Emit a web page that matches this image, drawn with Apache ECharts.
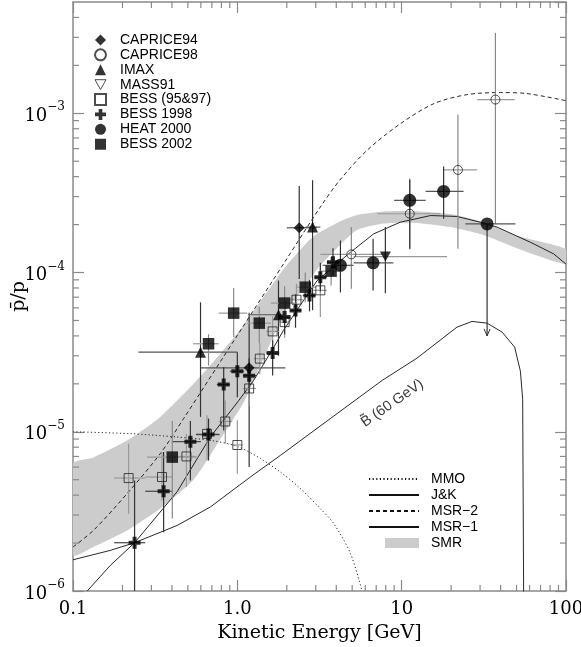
<!DOCTYPE html>
<html>
<head>
<meta charset="utf-8">
<script src="https://cdn.jsdelivr.net/npm/echarts@6/dist/echarts.min.js"></script>
<style>
html,body{margin:0;padding:0;background:#ffffff;}
#chart{width:581px;height:647px;}
</style>
</head>
<body>
<div id="chart"></div>
<script>
// ---------------- axis ticks ----------------
const xTickLabels = ['0.1', '1.0', '10', '100'];          // labels for 10^-1 .. 10^2
const xMinorTicks = [0.2,0.3,0.4,0.5,0.6,0.7,0.8,0.9, 2,3,4,5,6,7,8,9, 20,30,40,50,60,70,80,90];
const yMinorTicks = [2e-6,3e-6,4e-6,5e-6,6e-6,7e-6,8e-6,9e-6,
                     2e-5,3e-5,4e-5,5e-5,6e-5,7e-5,8e-5,9e-5,
                     2e-4,3e-4,4e-4,5e-4,6e-4,7e-4,8e-4,9e-4,
                     2e-3,3e-3,4e-3];

// ---------------- model curves ----------------
const mmoE  = [0.1, 0.223, 0.43, 0.685, 1.0, 1.38, 1.83, 2.42, 3.2, 3.86, 4.88, 5.74];
const mmoR  = [1.0e-5, 9.73e-6, 9.27e-6, 8.83e-6, 8.09e-6, 6.8e-6, 5.58e-6, 4.4e-6, 3.29e-6, 2.65e-6, 1.72e-6, 1.0e-6];

const jkE   = [0.1, 0.169, 0.237, 0.43, 0.685, 1.2, 1.83, 3.68, 7.6, 12.4, 21.7, 26.8, 33.1, 40.9, 48.7, 52.8, 54.5, 55.4];
const jkR   = [1.57e-6, 1.8e-6, 2.01e-6, 2.58e-6, 3.37e-6, 5.2e-6, 7.11e-6, 1.21e-5, 2.1e-5, 2.9e-5, 4.54e-5, 4.93e-5, 4.81e-5, 4.22e-5, 3.4e-5, 2.4e-5, 1.6e-5, 5e-7];

const msr2E = [0.1, 0.133, 0.213, 0.34, 0.471, 1.0, 2.0, 3.2, 4.2, 6.15, 9.82, 15.7, 25.0, 39.8, 57.9, 100];
const msr2R = [1.89e-6, 2.4e-6, 4.08e-6, 7.3e-6, 1.21e-5, 4.03e-5, 1.22e-4, 2.58e-4, 3.8e-4, 5.85e-4, 8.6e-4, 1.15e-3, 1.31e-3, 1.35e-3, 1.33e-3, 1.2e-3];

const msr1E = [0.122, 0.169, 0.237, 0.43, 0.685, 1.02, 1.256, 1.64, 1.91, 2.78, 3.06, 4.88, 6.76, 9.8, 15.0, 21.7, 30.1, 38.0, 60.7, 84.1, 100];
const msr1R = [1.0e-6, 1.45e-6, 2.01e-6, 4.2e-6, 9.27e-6, 1.57e-5, 2.1e-5, 3.3e-5, 4.34e-5, 7.73e-5, 8.9e-5, 1.34e-4, 1.75e-4, 2.07e-4, 2.28e-4, 2.25e-4, 2.07e-4, 1.93e-4, 1.55e-4, 1.31e-4, 1.13e-4];

const smrE  = [0.1, 0.133, 0.213, 0.34, 0.542, 0.79, 1.1, 1.38, 1.66, 1.91, 2.66, 3.06, 4.24, 5.36, 7.77, 12.4, 19.8, 31.5, 50.3, 100];
const smrHi = [6.3e-6, 6.9e-6, 8.8e-6, 1.24e-5, 2.0e-5, 3.1e-5, 4.7e-5, 6.6e-5, 8.6e-5, 1.05e-4, 1.55e-4, 1.75e-4, 2.1e-4, 2.3e-4, 2.42e-4, 2.43e-4, 2.33e-4, 2.07e-4, 1.7e-4, 1.4e-4];
const smrLo = [1.68e-6, 1.89e-6, 2.4e-6, 3.3e-6, 5.0e-6, 9.0e-6, 1.55e-5, 2.6e-5, 4.0e-5, 5.5e-5, 8.5e-5, 1.05e-4, 1.5e-4, 1.85e-4, 2.03e-4, 2.05e-4, 1.93e-4, 1.72e-4, 1.42e-4, 1.13e-4];

// ---------------- measurements ----------------
const caprice94E   = [1.18, 2.38];
const caprice94R   = [2.52e-5, 1.91e-4];
const caprice94Elo = [0.6, 2.0];
const caprice94Ehi = [1.96, 3.06];
const caprice94Rlo = [6.0e-6, 9.1e-5];
const caprice94Rhi = [5.6e-5, 3.5e-4];

const caprice98E   = [4.94, 11.2, 22.0, 37.2];
const caprice98R   = [1.30e-4, 2.34e-4, 4.41e-4, 1.22e-3];
const caprice98Elo = [3.2, 7.1, 18.0, 28.8];
const caprice98Ehi = [7.7, 17.2, 28.8, 48.8];
const caprice98Rlo = [7.9e-5, 1.4e-4, 1.41e-4, 2.02e-4];
const caprice98Rhi = [1.93e-4, 3.9e-4, 9.8e-4, 3.2e-3];

const imaxE   = [0.597, 1.78, 2.87];
const imaxR   = [3.16e-5, 5.43e-5, 1.93e-4];
const imaxElo = [0.25, 1.17, 2.6];
const imaxEhi = [1.0, 1.96, 3.2];
const imaxRlo = [1.24e-5, 3.0e-5, 5.8e-5];
const imaxRhi = [6.5e-5, 8.9e-5, 3.8e-4];

const mass91E   = [7.96];
const mass91R   = [1.26e-4];
const mass91Elo = [5.1];
const mass91Ehi = [18.9];
const mass91Rlo = [7.4e-5];
const mass91Rhi = [1.93e-4];

const bess9597E   = [0.218, 0.348, 0.49, 0.654, 0.845, 1.0, 1.18, 1.37, 1.64, 1.94, 2.29, 3.2];
const bess9597R   = [5.12e-6, 5.2e-6, 7.0e-6, 9.7e-6, 1.16e-5, 8.26e-6, 1.87e-5, 2.88e-5, 4.27e-5, 4.88e-5, 6.75e-5, 7.73e-5];
const bess9597Elo = [0.178, 0.275, 0.40, 0.56, 0.77, 0.93, 1.08, 1.26, 1.5, 1.78, 2.1, 2.9];
const bess9597Ehi = [0.275, 0.40, 0.56, 0.77, 0.93, 1.08, 1.3, 1.5, 1.8, 2.1, 2.5, 3.5];
const bess9597Rlo = [3.06e-6, 3.7e-6, 4.5e-6, 6.6e-6, 8.4e-6, 5.45e-6, 1.45e-5, 2.3e-5, 3.4e-5, 3.9e-5, 5.3e-5, 5.25e-5];
const bess9597Rhi = [8.4e-6, 7.46e-6, 9.7e-6, 1.27e-5, 1.57e-5, 1.18e-5, 2.35e-5, 3.6e-5, 5.3e-5, 6.1e-5, 8.5e-5, 1.08e-4];

const bess98E   = [0.237, 0.356, 0.518, 0.668, 0.826, 1.0, 1.18, 1.64, 1.94, 2.26, 2.75, 3.2, 3.82];
const bess98R   = [2.01e-6, 4.23e-6, 8.67e-6, 9.6e-6, 1.98e-5, 2.4e-5, 2.25e-5, 3.12e-5, 5.25e-5, 5.78e-5, 7.17e-5, 9.35e-5, 1.16e-4];
const bess98Elo = [0.178, 0.275, 0.40, 0.56, 0.75, 0.9, 1.08, 1.5, 1.78, 2.1, 2.5, 2.95, 3.5];
const bess98Ehi = [0.275, 0.40, 0.60, 0.78, 0.9, 1.1, 1.3, 1.8, 2.1, 2.45, 3.0, 3.5, 4.2];
const bess98Rlo = [1e-7, 2.34e-6, 4.95e-6, 6.6e-6, 1.02e-5, 1.65e-5, 1.75e-5, 2.26e-5, 4.1e-5, 4.5e-5, 5.7e-5, 7.6e-5, 9.5e-5];
const bess98Rhi = [4.95e-6, 7.46e-6, 1.17e-5, 1.21e-5, 2.55e-5, 3.16e-5, 2.9e-5, 3.75e-5, 6.6e-5, 7.3e-5, 9.0e-5, 1.15e-4, 1.42e-4];

const heatE     = [4.24, 6.7, 11.2, 18.0, 33.1];
const heatR     = [1.11e-4, 1.15e-4, 2.84e-4, 3.23e-4, 2.02e-4];
const heatElo   = [3.3, 5.1, 9.0, 14.0, 24.4];
const heatEhi   = [5.1, 8.9, 14.0, 23.8, 49.2];
const heatRlo   = [7.5e-5, 7.7e-5, 1.41e-4, 2.18e-4, 4.0e-5];
const heatRhi   = [1.59e-4, 1.63e-4, 3.83e-4, 4.63e-4, 2.02e-4];
const heatLimit = [0, 0, 0, 0, 1];   // 1 = upper limit (arrow)

const bess02E   = [0.402, 0.668, 0.95, 1.36, 1.94, 2.59, 3.72];
const bess02R   = [6.93e-6, 3.57e-5, 5.56e-5, 4.81e-5, 6.43e-5, 8.09e-5, 1.02e-4];
const bess02Elo = [0.282, 0.537, 0.77, 1.15, 1.6, 2.3, 3.2];
const bess02Ehi = [0.58, 0.769, 1.15, 1.6, 2.3, 3.0, 4.3];
const bess02Rlo = [2.85e-6, 2.6e-5, 3.93e-5, 3.6e-5, 5.0e-5, 6.5e-5, 8.3e-5];
const bess02Rhi = [1.17e-5, 4.1e-5, 8.0e-5, 6.1e-5, 8.2e-5, 1.0e-4, 1.25e-4];

const bLabelText = 'B\u0303 (60 GeV)';
const bLabelAt   = [8.77, 1.51e-5];

// ---------------- build ----------------
const SERIF = 'DejaVu Serif';
const SANS = 'Liberation Sans';
const AXIS_GRAY = '#8a8a8a';

function pairs(xs, ys) { return xs.map((x, i) => [x, ys[i]]); }

function errData(E, R, Elo, Ehi, Rlo, Rhi, lim) {
  return E.map((e, i) => [e, R[i], Elo[i], Ehi[i], Rlo[i], Rhi[i], lim ? lim[i] : 0]);
}

function errSeries(name, data, hColor, vColor) {
  return {
    type: 'custom', name: name + ' err', silent: true, z: 3, clip: true,
    encode: { x: 0, y: 1 },
    data: data,
    renderItem: function (params, api) {
      const E = api.value(0), R = api.value(1);
      const a = api.coord([api.value(2), R]), b = api.coord([api.value(3), R]);
      const c = api.coord([E, api.value(4)]), d = api.coord([E, api.value(5)]);
      const children = [
        { type: 'line', shape: { x1: a[0], y1: a[1], x2: b[0], y2: b[1] }, style: { stroke: hColor, lineWidth: 1.2 } },
        { type: 'line', shape: { x1: c[0], y1: c[1], x2: d[0], y2: d[1] }, style: { stroke: vColor, lineWidth: 1.2 } }
      ];
      if (api.value(6) === 1) {
        children.push({ type: 'polyline', shape: { points: [[c[0] - 3, c[1] - 7], [c[0], c[1]], [c[0] + 3, c[1] - 7]] },
                        style: { stroke: vColor, lineWidth: 1, fill: null } });
      }
      return { type: 'group', children: children };
    }
  };
}

function scatter(name, E, R, symbol, size, style) {
  return {
    type: 'scatter', name: name, z: 4, symbol: symbol, symbolSize: size,
    data: pairs(E, R), itemStyle: style, emphasis: { disabled: true }
  };
}

const filled = { color: '#000000' };
const open = { color: 'rgba(255,255,255,0)', borderColor: '#222222', borderWidth: 1 };
const plusPath = 'path://M4,0H8V4H12V8H8V12H4V8H0V4H4Z';
const downTri = 'path://M0,0H10L5,9Z';

const series = [];

// SMR band
series.push({
  type: 'custom', name: 'SMR', z: 1, clip: true, silent: true,
  itemStyle: { color: '#cccccc' },
  encode: { x: 0, y: 1 },
  data: [[1, 1e-4]],
  renderItem: function (params, api) {
    const pts = [];
    for (let i = 0; i < smrE.length; i++) pts.push(api.coord([smrE[i], smrHi[i]]));
    for (let i = smrE.length - 1; i >= 0; i--) pts.push(api.coord([smrE[i], smrLo[i]]));
    return { type: 'polygon', shape: { points: pts, smooth: 0.2 }, style: { fill: '#cccccc', stroke: null } };
  }
});

function lineSeries(name, E, R, type, smooth) {
  return {
    type: 'line', name: name, z: 2, symbol: 'none', showSymbol: false, smooth: smooth, clip: true,
    data: pairs(E, R), silent: true,
    lineStyle: { color: '#111111', width: 0.9, type: type },
    itemStyle: { color: '#111111' }
  };
}
series.push(lineSeries('MMO', mmoE, mmoR, [1.2, 2.4], 0.3));
series.push(lineSeries('J&K', jkE, jkR, 'solid', false));
series.push(lineSeries('MSR\u22122', msr2E, msr2R, [4, 3], 0.3));
series.push(lineSeries('MSR\u22121', msr1E, msr1R, 'solid', false));

// error bars
series.push(errSeries('CAPRICE94', errData(caprice94E, caprice94R, caprice94Elo, caprice94Ehi, caprice94Rlo, caprice94Rhi), '#555555', '#333333'));
series.push(errSeries('CAPRICE98', errData(caprice98E, caprice98R, caprice98Elo, caprice98Ehi, caprice98Rlo, caprice98Rhi), '#999999', '#888888'));
series.push(errSeries('IMAX', errData(imaxE, imaxR, imaxElo, imaxEhi, imaxRlo, imaxRhi), '#555555', '#333333'));
series.push(errSeries('MASS91', errData(mass91E, mass91R, mass91Elo, mass91Ehi, mass91Rlo, mass91Rhi), '#999999', '#333333'));
series.push(errSeries('BESS (95&97)', errData(bess9597E, bess9597R, bess9597Elo, bess9597Ehi, bess9597Rlo, bess9597Rhi), '#999999', '#999999'));
series.push(errSeries('BESS 1998', errData(bess98E, bess98R, bess98Elo, bess98Ehi, bess98Rlo, bess98Rhi), '#444444', '#333333'));
series.push(errSeries('HEAT 2000', errData(heatE, heatR, heatElo, heatEhi, heatRlo, heatRhi, heatLimit), '#555555', '#333333'));
series.push(errSeries('BESS 2002', errData(bess02E, bess02R, bess02Elo, bess02Ehi, bess02Rlo, bess02Rhi), '#999999', '#888888'));

// markers
series.push(scatter('CAPRICE94', caprice94E, caprice94R, 'diamond', 11, filled));
series.push(scatter('CAPRICE98', caprice98E, caprice98R, 'circle', 9, open));
series.push(scatter('IMAX', imaxE, imaxR, 'triangle', 11, filled));
series.push(scatter('MASS91', mass91E, mass91R, downTri, [11, 10], filled));
series.push(scatter('BESS (95&97)', bess9597E, bess9597R, 'rect', 9, open));
series.push(scatter('BESS 1998', bess98E, bess98R, plusPath, 12, filled));
series.push(scatter('HEAT 2000', heatE, heatR, 'circle', 13, filled));
series.push(scatter('BESS 2002', bess02E, bess02R, 'rect', 11.5, filled));

// B~ label
series.push({
  type: 'scatter', name: 'Blabel', z: 5, symbolSize: 0, silent: true,
  data: [bLabelAt],
  label: { show: true, position: 'inside', rotate: 35, formatter: bLabelText,
           fontFamily: SANS, fontSize: 14.5, color: '#000000' }
});

// minor ticks on all four sides
series.push({
  type: 'custom', name: 'minorTicks', z: 6, silent: true, clip: false,
  encode: { x: 0, y: 1 },
  data: xMinorTicks.map(v => [v, 1e-4, 0]).concat(yMinorTicks.map(v => [1, v, 1])),
  renderItem: function (params, api) {
    const cs = params.coordSys;
    const st = { stroke: AXIS_GRAY, lineWidth: 1.2 };
    const L = 6;
    if (api.value(2) === 0) {
      const px = api.coord([api.value(0), 1e-4])[0];
      return { type: 'group', children: [
        { type: 'line', shape: { x1: px, y1: cs.y + cs.height, x2: px, y2: cs.y + cs.height - L }, style: st },
        { type: 'line', shape: { x1: px, y1: cs.y, x2: px, y2: cs.y + L }, style: st } ] };
    } else {
      const py = api.coord([1, api.value(1)])[1];
      return { type: 'group', children: [
        { type: 'line', shape: { x1: cs.x, y1: py, x2: cs.x + L, y2: py }, style: st },
        { type: 'line', shape: { x1: cs.x + cs.width, y1: py, x2: cs.x + cs.width - L, y2: py }, style: st } ] };
    }
  }
});

function xLabel(v) {
  const e = Math.round(Math.log10(v));
  if (Math.abs(Math.log10(v) - e) > 1e-6) return '';
  return xTickLabels[e + 1] || '';
}
function yLabel(v) {
  const lg = Math.log10(v);
  const e = Math.round(lg);
  if (Math.abs(lg - e) > 1e-6) return '';
  return '{b|10}{s|\u2212' + (-e) + '}';
}

const axisLineStyle = { lineStyle: { color: AXIS_GRAY, width: 1.5 } };
const tickStyle = { inside: true, length: 11, lineStyle: { color: AXIS_GRAY, width: 1.2 } };
const hiddenLegendSymbol = { color: 'rgba(0,0,0,0)', borderWidth: 0 };

const option = {
  animation: false,
  backgroundColor: '#ffffff',
  grid: { left: 73, right: 15, top: 2, bottom: 56, containLabel: false, outerBoundsMode: 'none' },
  xAxis: [
    { type: 'log', logBase: 10, min: 0.1, max: 100, position: 'bottom',
      axisLine: axisLineStyle, axisTick: tickStyle, splitLine: { show: false },
      axisLabel: { formatter: xLabel, fontFamily: SERIF, fontSize: 18, color: '#000', margin: 9,
                   showMinLabel: true, showMaxLabel: true },
      name: 'Kinetic Energy [GeV]', nameLocation: 'middle', nameGap: 33, nameMoveOverlap: false,
      nameTextStyle: { fontFamily: SERIF, fontSize: 19, color: '#000' } },
    { type: 'log', logBase: 10, min: 0.1, max: 100, position: 'top',
      axisLine: axisLineStyle, axisTick: tickStyle, splitLine: { show: false },
      axisLabel: { show: false } }
  ],
  yAxis: [
    { type: 'log', logBase: 10, min: 1e-6, max: 5e-3, position: 'left',
      axisLine: axisLineStyle, axisTick: tickStyle, splitLine: { show: false },
      axisLabel: { formatter: yLabel, margin: 8, showMinLabel: true, showMaxLabel: false,
        rich: { b: { fontFamily: SERIF, fontSize: 18, color: '#000', lineHeight: 24, verticalAlign: 'bottom' },
                s: { fontFamily: SERIF, fontSize: 12, color: '#000', lineHeight: 12, verticalAlign: 'top' } } },
      name: 'p\u0304/p', nameLocation: 'middle', nameRotate: 90, nameGap: 44, nameMoveOverlap: false,
      nameTextStyle: { fontFamily: SERIF, fontSize: 19, color: '#000' } },
    { type: 'log', logBase: 10, min: 1e-6, max: 5e-3, position: 'right',
      axisLine: axisLineStyle, axisTick: tickStyle, splitLine: { show: false },
      axisLabel: { show: false } }
  ],
  legend: [
    { orient: 'vertical', left: 94, top: 32.5, padding: 0, itemGap: 0,
      itemWidth: 11, itemHeight: 11, selectedMode: false,
      textStyle: { fontFamily: SANS, fontSize: 14, color: '#000', lineHeight: 14.9, padding: [0, 0, 0, 9] },
      data: ['CAPRICE94', 'CAPRICE98', 'IMAX',
             { name: 'MASS91', itemStyle: { color: 'rgba(255,255,255,0)', borderColor: '#222', borderWidth: 1 } },
             'BESS (95&97)', 'BESS 1998', 'HEAT 2000', 'BESS 2002'] },
    { orient: 'vertical', left: 368, top: 471, padding: 0, itemGap: 0,
      itemWidth: 50, itemHeight: 10, selectedMode: false,
      itemStyle: hiddenLegendSymbol,
      textStyle: { fontFamily: SANS, fontSize: 14, color: '#000', lineHeight: 16, padding: [0, 0, 0, 7] },
      data: [{ name: 'MMO', itemStyle: hiddenLegendSymbol },
             { name: 'J&K', itemStyle: hiddenLegendSymbol },
             { name: 'MSR\u22122', itemStyle: hiddenLegendSymbol },
             { name: 'MSR\u22121', itemStyle: hiddenLegendSymbol },
             { name: 'SMR', icon: 'path://M0,5L0.01,5L0.01,5.01Z M16,0H50V10H16Z', itemStyle: { color: '#cccccc', borderWidth: 0 } }] }
  ],
  series: series
};

const chart = echarts.init(document.getElementById('chart'), null, { renderer: 'canvas' });
chart.setOption(option);
</script>
</body>
</html>
